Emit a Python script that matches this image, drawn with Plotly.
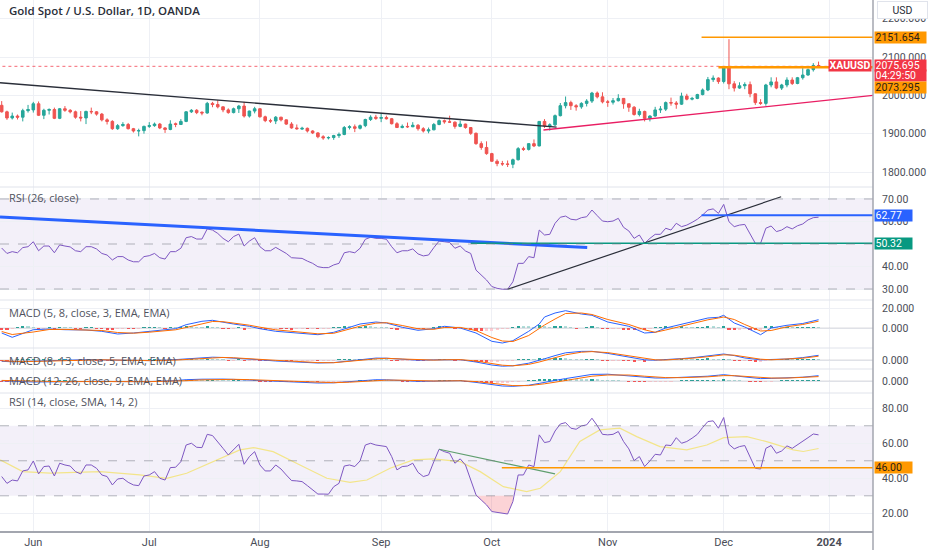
import plotly.graph_objects as go
from plotly.subplots import make_subplots

# daily bars, index 0 = 2023-05-24 ... 155 = 2023-12-28
month_ticks = [6, 28, 49, 72, 93, 115, 137, 157]
month_labels = ["Jun", "Jul", "Aug", "Sep", "Oct", "Nov", "Dec", "<b>2024</b>"]

opens = [1974, 1957, 1941, 1946, 1943, 1960, 1962, 1978, 1948, 1961, 1963, 1940, 1965, 1961, 1957, 1943,
         1941, 1958, 1957, 1951, 1936, 1932, 1913, 1921, 1924, 1913, 1907, 1908, 1919, 1921, 1925, 1915,
         1911, 1926, 1924, 1932, 1957, 1961, 1956, 1954, 1979, 1976, 1970, 1962, 1955, 1965, 1972, 1946,
         1959, 1965, 1944, 1934, 1933, 1943, 1936, 1925, 1915, 1912, 1914, 1907, 1902, 1892, 1889, 1890,
         1895, 1898, 1916, 1918, 1914, 1921, 1937, 1943, 1940, 1942, 1939, 1926, 1916, 1919, 1918, 1922,
         1913, 1907, 1910, 1924, 1934, 1931, 1930, 1919, 1925, 1916, 1901, 1874, 1864, 1848, 1828, 1822,
         1821, 1820, 1832, 1861, 1859, 1874, 1868, 1932, 1920, 1923, 1947, 1973, 1981, 1973, 1970, 1979,
         1985, 2006, 1996, 1983, 1982, 1986, 1992, 1978, 1969, 1950, 1958, 1940, 1946, 1962, 1964, 1981,
         1980, 1977, 1998, 1990, 1992, 2002, 2014, 2041, 2045, 2036, 2072, 2030, 2019, 2025, 2028, 2004,
         1981, 1979, 2027, 2035, 2019, 2027, 2040, 2031, 2046, 2053, 2067, 2078]
highs = [1985, 1960, 1955, 1950, 1965, 1975, 1983, 1984, 1965, 1966, 1968, 1967, 1972, 1964, 1960, 1959,
         1960, 1968, 1959, 1954, 1940, 1935, 1925, 1930, 1928, 1915, 1913, 1921, 1930, 1929, 1928, 1917,
         1935, 1929, 1938, 1959, 1964, 1964, 1958, 1983, 1983, 1987, 1971, 1966, 1968, 1975, 1983, 1960,
         1970, 1966, 1947, 1939, 1946, 1944, 1937, 1930, 1924, 1918, 1916, 1909, 1904, 1896, 1893, 1897,
         1903, 1920, 1922, 1924, 1924, 1939, 1948, 1949, 1953, 1947, 1941, 1930, 1924, 1929, 1930, 1925,
         1917, 1916, 1928, 1937, 1937, 1947, 1932, 1934, 1926, 1917, 1903, 1880, 1880, 1850, 1833, 1829,
         1830, 1835, 1865, 1866, 1875, 1885, 1933, 1938, 1927, 1950, 1980, 1997, 1986, 1977, 1982, 1990,
         2009, 2010, 2008, 1988, 1993, 2003, 1993, 1978, 1972, 1965, 1960, 1948, 1970, 1972, 1984, 1994,
         1985, 2007, 2004, 1996, 2004, 2018, 2048, 2052, 2047, 2075, 2146.5, 2037, 2034, 2034, 2036, 2005,
         1990, 2030, 2047, 2047, 2030, 2047, 2047, 2048, 2071, 2070, 2084, 2088]
lows = [1955, 1936, 1937, 1937, 1932, 1955, 1955, 1946, 1938, 1950, 1938, 1938, 1957, 1953, 1939, 1932,
        1925, 1951, 1947, 1932, 1924, 1910, 1910, 1918, 1911, 1903, 1893, 1900, 1915, 1918, 1912, 1902,
        1909, 1917, 1923, 1930, 1954, 1951, 1948, 1952, 1969, 1966, 1956, 1952, 1953, 1954, 1942, 1942,
        1953, 1942, 1930, 1928, 1925, 1932, 1923, 1913, 1910, 1910, 1903, 1899, 1888, 1884, 1885, 1884,
        1889, 1896, 1911, 1904, 1911, 1917, 1933, 1936, 1930, 1937, 1924, 1915, 1914, 1915, 1917, 1908,
        1903, 1901, 1909, 1922, 1926, 1928, 1913, 1917, 1913, 1897, 1871, 1858, 1845, 1827, 1815, 1816,
        1813, 1810, 1830, 1855, 1856, 1865, 1867, 1915, 1908, 1920, 1945, 1966, 1962, 1960, 1965, 1971,
        1980, 1992, 1979, 1970, 1976, 1984, 1965, 1957, 1947, 1945, 1932, 1932, 1944, 1954, 1959, 1973,
        1965, 1975, 1987, 1987, 1990, 2000, 2011, 2035, 2030, 2031, 2016, 2010, 2017, 2016, 1995, 1975,
        1975, 1973, 2021, 2016, 2014, 2021, 2027, 2029, 2041, 2051, 2062, 2074]
closes = [1957, 1941, 1946, 1943, 1960, 1963, 1978, 1948, 1961, 1963, 1940, 1965, 1961, 1957, 1943, 1941,
          1958, 1957, 1951, 1936, 1932, 1913, 1921, 1924, 1913, 1907, 1908, 1919, 1921, 1925, 1915, 1911,
          1925, 1924, 1932, 1957, 1961, 1955, 1954, 1979, 1976, 1970, 1962, 1955, 1965, 1972, 1946, 1959,
          1965, 1944, 1934, 1933, 1943, 1936, 1925, 1915, 1913, 1914, 1907, 1902, 1892, 1889, 1890, 1895,
          1898, 1916, 1918, 1914, 1921, 1937, 1943, 1940, 1942, 1939, 1926, 1916, 1919, 1918, 1922, 1913,
          1907, 1910, 1924, 1934, 1931, 1930, 1919, 1925, 1916, 1901, 1874, 1864, 1848, 1828, 1822, 1821,
          1820, 1832, 1861, 1859, 1874, 1868, 1932, 1920, 1923, 1947, 1973, 1981, 1973, 1970, 1979, 1985,
          2006, 1996, 1983, 1982, 1986, 1992, 1978, 1969, 1950, 1958, 1940, 1946, 1962, 1964, 1981, 1980,
          1977, 1998, 1990, 1992, 2002, 2014, 2041, 2045, 2036, 2072, 2030, 2019, 2025, 2028, 2004, 1981,
          1979, 2027, 2035, 2019, 2027, 2040, 2031, 2046, 2053, 2067, 2078, 2075.695]

last_price = 2075.695
countdown = "04:29:50"

rsi26 = [48.2, 45.8, 46.6, 46.1, 48.4, 48.8, 51.0, 47.0, 49.1, 49.1, 46.1, 49.6, 49.1, 48.7, 47.0, 46.6,
         48.8, 48.8, 47.8, 45.8, 45.1, 42.9, 44.4, 44.4, 42.9, 42.1, 42.1, 44.4, 44.8, 45.8, 43.9, 43.3,
         46.6, 46.6, 48.1, 52.8, 53.3, 52.2, 52.2, 56.7, 56.2, 54.7, 52.5, 51.0, 53.3, 54.4, 49.1, 51.3,
         52.8, 48.8, 47.0, 47.0, 48.5, 47.3, 45.8, 43.9, 43.6, 43.6, 42.4, 41.4, 39.9, 39.5, 39.5, 40.7,
         41.4, 46.1, 46.6, 46.1, 48.1, 52.1, 53.0, 52.5, 52.5, 52.1, 48.8, 46.1, 47.0, 47.0, 47.8, 45.6,
         44.7, 45.1, 48.4, 51.3, 51.0, 50.7, 48.1, 49.1, 46.9, 45.8, 38.4, 36.2, 34.0, 31.1, 30.3, 29.9,
         29.9, 33.2, 41.4, 41.4, 44.4, 43.9, 56.2, 54.0, 54.3, 59.2, 61.9, 62.4, 61.0, 60.7, 61.7, 62.1,
         65.1, 62.6, 60.2, 59.9, 60.2, 61.4, 57.4, 55.8, 52.5, 54.0, 50.3, 52.5, 54.3, 54.3, 57.0, 56.2,
         59.2, 57.7, 58.4, 59.6, 61.0, 62.9, 65.1, 65.6, 63.6, 67.6, 59.9, 57.7, 58.4, 58.7, 54.3, 50.3,
         50.3, 57.0, 58.0, 55.5, 56.2, 57.7, 56.7, 58.1, 58.9, 60.7, 61.7, 61.9]

rsi14 = [41.0, 37.1, 39.0, 38.5, 44.2, 44.8, 49.9, 42.5, 46.7, 47.0, 41.3, 48.6, 47.6, 47.0, 43.8, 42.5,
         47.6, 47.6, 45.7, 41.9, 41.0, 36.2, 39.6, 40.0, 37.7, 36.2, 35.8, 41.3, 41.9, 43.8, 40.0, 39.0,
         46.1, 46.3, 49.5, 59.0, 60.0, 57.7, 57.5, 65.1, 64.4, 61.0, 57.1, 53.3, 56.2, 59.4, 48.0, 52.4,
         55.2, 47.6, 44.2, 44.2, 47.6, 45.3, 41.9, 38.7, 38.5, 38.1, 35.8, 33.3, 31.0, 31.0, 30.9, 35.2,
         37.1, 47.0, 47.6, 46.7, 49.9, 59.0, 60.0, 59.0, 58.5, 58.1, 52.4, 44.8, 46.7, 47.0, 48.6, 43.4,
         41.0, 41.9, 49.5, 56.6, 55.2, 54.3, 48.6, 51.1, 47.6, 39.0, 30.5, 27.6, 24.8, 21.0, 20.4, 20.0,
         19.6, 26.7, 41.9, 41.9, 47.6, 46.7, 64.8, 60.4, 61.0, 67.0, 71.0, 71.8, 68.6, 68.0, 69.9, 70.5,
         74.3, 70.1, 65.1, 64.8, 65.1, 66.7, 61.0, 56.8, 50.1, 52.4, 46.7, 49.9, 53.7, 53.3, 59.0, 58.7,
         63.2, 60.0, 61.0, 62.9, 65.1, 69.0, 72.4, 72.8, 68.6, 74.7, 59.4, 56.8, 58.1, 58.7, 51.8, 45.7,
         45.3, 57.1, 58.7, 54.3, 55.6, 58.5, 57.1, 59.0, 60.9, 63.2, 65.3, 64.8]

# RSI-based SMA (14), read at sparse points
rsi_ma_x = [-0.3, 4, 9.2, 18.7, 26.2, 31.3, 35.1, 40.2, 45.2, 47.8, 51.5, 56.6, 61.7, 66.1, 69.3, 73.7,
            78.1, 81.9, 87, 90.8, 95.2, 99.6, 102.2, 106, 109.7, 113.5, 117.3, 120.5, 124.9, 130, 133.8,
            137, 141.4, 145.8, 150.2, 152.1, 155]
rsi_ma_y = [50.5, 43.8, 42.9, 43.8, 41.9, 40.0, 42.9, 49.5, 56.2, 57.5, 55.2, 47.6, 40.0, 37.7, 39.0, 45.7,
            50.5, 51.1, 49.5, 43.8, 35.2, 32.4, 34.3, 43.8, 61.0, 67.6, 68.6, 63.8, 58.1, 56.2, 59.0,
            63.2, 63.8, 60.4, 56.2, 55.3, 57.0]

# MACD panes, lines read at sparse bars
macd_x = [0, 2, 6, 9, 12, 16, 19, 22, 25, 28, 33, 35, 38, 40, 42, 44, 47, 49, 52, 57, 60, 63, 66, 68, 71,
          73, 76, 79, 82, 84, 87, 90, 93, 95, 97, 100, 102, 103, 105, 107, 110, 112, 115, 119, 122, 124,
          126, 129, 131, 134, 136, 137, 139, 141, 144, 146, 149, 152, 155]
macd1 = [-5, -9.3, -1.7, -1.0, -1.7, -2.0, -3.3, -6, -5, -3.3, -0.7, 3.3, 6.7, 7.7, 5.5, 4, 1.7, -0.7, -3.3,
         -5, -6.7, -4.3, 0.7, 4, 6, 5, 0.7, -2.3, -0.7, 1.7, 0, -5, -13.3, -15, -12.7, -3.3, 4, 11, 15, 17.3,
         14, 12.7, 6, 1.7, -5, -4.3, 0, 4, 6, 10, 10.7, 12.7, 5, 1, -6.7, 0, 2.7, 4.5, 8.3]
signal1 = [-3.5, -6.5, -4.0, -1.5, -1.4, -1.6, -2.5, -4.5, -5.2, -4.2, -1.8, 0.5, 4.5, 6.5, 6.3, 5, 2.8, 0.8,
           -1.8, -4.3, -5.8, -5.3, -1.5, 1.8, 4.8, 5.3, 2.5, -0.8, -1.3, 0.5, 0.6, -2.5, -9.5, -13, -13.5,
           -7.5, -0.5, 3, 9, 14.5, 15, 13.5, 8.5, 3.5, -1.8, -4.3, -2, 2, 4.6, 8.2, 10, 11, 8.5, 3.5, -3,
           -2.5, 1.2, 3.5, 6.8]
macd2 = [-3.3, -4.5, -3.0, -1.5, 0.5, 0.8, 0.3, -0.8, -1.8, -1.5, 1.0, 3.0, 6.2, 7.0, 6.3, 5.0, 2.8, 0.5,
         -2.5, -5.8, -7.5, -6.5, -2.0, 1.5, 4.8, 4.5, 1.2, -0.5, 0.3, 1.2, 0.8, -5.0, -12.5, -15.5, -14.5,
         -8.0, -1.5, 3, 11, 18, 21.5, 21.7, 16.5, 7, 0.5, -0.5, 0.5, 3.5, 5.5, 10, 13, 15, 11, 5, 0.5, 0.8,
         2.5, 6, 11.7]
signal2 = [-2.0, -3.5, -3.6, -2.5, -0.8, 0.4, 0.5, -0.2, -1.2, -1.6, -0.2, 1.5, 4.5, 6.0, 6.4, 5.6, 3.8, 2.0,
           -0.8, -4.2, -6.5, -6.8, -4.0, -0.8, 3.0, 4.2, 2.5, 0.3, -0.2, 0.6, 1.0, -2.5, -9.0, -13.0, -14.5,
           -11.0, -5.0, -1.5, 5.5, 13, 19.5, 21, 18.5, 11, 3.5, 0.5, 0, 2.2, 4.5, 8.2, 11.5, 13, 12, 7.5, 2,
           0.5, 1.8, 4.5, 9.5]
macd3 = [0.8, -0.5, -2.5, -2.2, -1.5, -1.0, -0.8, -1.5, -2.0, -1.5, 1.0, 3.3, 4.5, 5.0, 4.8, 4.0, 2.5, 1.2,
         -0.5, -3.5, -5.0, -4.5, -1.5, 1.5, 3.2, 3.0, 1.0, -0.8, -0.3, 0.5, 0.8, -3.5, -9.5, -12.5, -13.3,
         -10.5, -6, -3, 1.5, 6, 13, 16.5, 17, 13.5, 9, 7.5, 7.5, 8.5, 9.2, 12, 14.5, 15.8, 13, 9.5, 6, 6.5,
         7.3, 9.5, 13.3]
signal3 = [1.5, 0.8, -1.0, -1.8, -1.8, -1.4, -1.0, -1.2, -1.6, -1.7, -0.5, 0.8, 2.8, 3.8, 4.3, 4.2, 3.4, 2.5,
           1.0, -1.8, -3.5, -4.2, -3.0, -1.2, 1.2, 2.2, 2.0, 0.5, 0.0, 0.2, 0.6, -1.5, -6, -9.5, -11.5,
           -11.5, -9, -7, -3, 1.5, 8, 12, 15, 15, 12, 10, 8.5, 8.3, 8.6, 10.5, 12.5, 13.5, 13.3, 11.5, 8.5,
           7.5, 7.3, 8.3, 11]

hist1 = [-1.2, -1.8, -1.0, 0.8, 1.8, 1.5, 1.0, -0.5, -0.3, 0.2, -0.8, 0.6, 0.5, 0.1, -0.6, -0.8,
         0.3, 0.4, -0.2, -1.0, -1.2, -1.6, -0.6, -0.1, -0.5, -0.7, -0.2, 0.6, 0.8, 0.9, 0.2, -0.3,
         0.7, 0.5, 0.9, 2.0, 1.8, 0.8, 0.2, 1.5, 1.0, 0.2, -0.6, -1.0, -0.4, 0.3, -1.3, -0.6,
         0.0, -1.0, -1.5, -1.2, -0.4, -0.5, -0.9, -1.2, -0.9, -0.6, -0.7, -0.6, -0.8, -0.5, -0.1, 0.3,
         0.5, 1.5, 1.3, 0.5, 0.7, 1.6, 1.5, 0.8, 0.5, 0.1, -0.8, -1.3, -0.9, -0.6, -0.1, -0.7,
         -0.9, -0.5, 0.6, 1.1, 0.8, 0.3, -0.6, -0.2, -0.7, -1.4, -2.6, -2.8, -2.7, -2.6, -1.8, -1.0,
         -0.4, 0.8, 2.2, 1.8, 1.6, 0.9, 3.2, 1.6, 0.8, 1.4, 2.1, 1.6, 0.4, -0.3, 0.0, 0.2,
         1.1, 0.3, -0.8, -1.0, -0.7, -0.3, -1.1, -1.5, -2.0, -1.3, -1.8, -1.0, 0.3, 0.5, 1.3, 0.8,
         0.3, 1.3, 0.6, 0.3, 0.5, 1.0, 2.0, 1.4, 0.3, 1.9, -1.2, -1.9, -1.6, -1.0, -1.6, -2.3,
         -2.0, 1.2, 1.9, 0.6, 0.5, 0.9, 0.2, 0.6, 0.8, 1.0, 1.0, 0.5]
hist2 = [-1.0, -1.5, -1.0, 0.2, 1.0, 1.2, 1.2, 0.2, 0.3, 0.5, -0.3,
         0.5, 0.6, 0.3, -0.3, -0.6, 0.0, 0.2, -0.2, -0.8, -1.2,
         -1.8, -1.5, -1.0, -1.0, -1.1, -0.8, -0.2, 0.2, 0.5, 0.2,
         -0.1, 0.4, 0.5, 0.8, 2.0, 2.2, 1.6, 1.0, 2.0, 1.8,
         1.0, 0.2, -0.5, -0.3, 0.2, -1.2, -1.0, -0.5, -1.4, -2.0,
         -2.0, -1.5, -1.4, -1.6, -1.8, -1.6, -1.2, -1.1, -1.1, -1.2,
         -1.0, -0.6, -0.2, 0.2, 1.2, 1.5, 1.0, 1.1, 1.8, 2.0,
         1.5, 1.0, 0.6, -0.4, -1.2, -1.2, -1.0, -0.6, -1.0, -1.3,
         -1.0, 0.0, 0.8, 0.8, 0.5, -0.3, -0.2, -0.6, -1.4, -2.8,
         -3.5, -3.8, -3.8, -3.2, -2.4, -1.5, -0.2, 2.0, 2.2, 2.5,
         2.0, 4.5, 3.8, 3.0, 3.5, 4.0, 3.6, 2.2, 1.2, 1.0,
         1.0, 1.6, 1.0, -0.2, -0.8, -0.8, -0.5, -1.2, -1.8, -2.6,
         -2.2, -2.6, -2.0, -0.8, -0.2, 0.8, 0.8, 0.5, 1.5, 1.2,
         0.8, 1.0, 1.5, 2.6, 2.4, 1.5, 2.5, 0.2, -1.2, -1.5,
         -1.4, -2.0, -2.8, -2.8, -0.6, 0.6, 0.4, 0.5, 0.9, 0.6,
         0.8, 1.0, 1.2, 1.4, 1.0]
hist3 = [-0.8, -1.0, -0.9, -0.5, 0.0, 0.3, 0.5, 0.2, 0.2, 0.3, -0.1,
         0.2, 0.3, 0.2, -0.1, -0.3, -0.1, 0.0, -0.2, -0.5, -0.8,
         -1.2, -1.2, -1.0, -1.0, -1.1, -1.0, -0.6, -0.4, -0.2, -0.2,
         -0.3, 0.0, 0.2, 0.4, 1.2, 1.5, 1.4, 1.2, 1.8, 1.9,
         1.6, 1.2, 0.8, 0.8, 0.9, 0.2, 0.0, 0.1, -0.4, -0.9,
         -1.2, -1.2, -1.3, -1.5, -1.8, -1.9, -1.9, -2.0, -2.0, -2.1,
         -2.0, -1.8, -1.5, -1.2, -0.6, -0.2, 0.0, 0.2, 0.8, 1.2,
         1.3, 1.2, 1.0, 0.6, 0.1, -0.1, -0.2, -0.2, -0.4, -0.6,
         -0.6, -0.2, 0.3, 0.5, 0.5, 0.2, 0.2, -0.1, -0.6, -1.6,
         -2.4, -3.1, -3.6, -3.6, -3.4, -3.0, -2.2, -0.8, 0.0, 0.6,
         0.9, 2.8, 3.0, 3.0, 3.6, 4.2, 4.4, 4.0, 3.4, 3.0,
         2.8, 3.0, 2.6, 1.8, 1.2, 0.8, 0.6, 0.0, -0.6, -1.4,
         -1.6, -2.0, -1.9, -1.4, -1.0, -0.4, -0.2, 0.0, 0.6, 0.6,
         0.6, 0.8, 1.2, 2.0, 2.4, 2.2, 3.0, 2.0, 1.0, 0.4,
         0.0, -0.6, -1.4, -1.8, -0.8, -0.2, 0.0, 0.1, 0.4, 0.5,
         0.8, 1.0, 1.3, 1.6, 1.6]

# drawings (bar index, value)
trend_down_x, trend_down_y = [-0.32, 105.3], [2033, 1917]
trend_up_x, trend_up_y = [102.8, 166], [1909.4, 2000.8]
level_hi_x, level_hi = [132.8, 166], 2151.654
level_lo_x, level_lo = [136, 166], 2073.295
rsi26_down_x, rsi26_down_y = [-0.32, 111.1], [62.0, 48.4]
rsi26_up_x, rsi26_up_y = [96.0, 147.9], [29.9, 71.0]
rsi26_lvl_a_x, rsi26_lvl_a = [132.8, 166], 62.77
rsi26_lvl_b_x, rsi26_lvl_b = [89, 166], 50.32
rsi14_trend_x, rsi14_trend_y = [83, 105], [56.6, 42.5]
rsi14_lvl_x, rsi14_lvl = [94.9, 166], 46.00

UP, DN = "#26A69A", "#EF5350"
GRID = "#eef0f5"
AXIS_TXT = "#4a4d57"
FONT = "Roboto"
PLOT_H = 531
idx = list(range(len(closes)))

fig = make_subplots(rows=6, cols=1, shared_xaxes=True, vertical_spacing=0,
                    row_heights=[187, 113, 48, 21, 24, 138])


def py(px):
    # pixel row inside the plot area -> paper y
    return (PLOT_H - px) / PLOT_H


def line(x, y, color, width=1, row=1, dash="solid"):
    fig.add_trace(go.Scatter(x=x, y=y, mode="lines", line=dict(color=color, width=width, dash=dash),
                             hoverinfo="skip", showlegend=False), row=row, col=1)


def hist_colors(h):
    out, prev = [], 0
    for v in h:
        if v >= 0:
            out.append("#26A69A" if v >= prev else "#B2DFDB")
        else:
            out.append("#FF5252" if v < prev else "#FFCDD2")
        prev = v
    return out


# ---- price pane
fig.add_trace(go.Candlestick(x=idx, open=opens, high=highs, low=lows, close=closes,
                             increasing=dict(line=dict(color=UP, width=1), fillcolor=UP),
                             decreasing=dict(line=dict(color=DN, width=1), fillcolor=DN),
                             whiskerwidth=0, hoverinfo="skip", showlegend=False), row=1, col=1)
line([-1, 170], [last_price, last_price], "rgba(242,54,69,0.75)", 1, dash="dot")
line(trend_down_x, trend_down_y, "#2a2e39", 1.4)
line(trend_up_x, trend_up_y, "#E91E63", 1.4)
line(level_hi_x, [level_hi, level_hi], "#FF9800", 1.4)
line(level_lo_x, [level_lo, level_lo], "#FF9800", 2.5)

# ---- RSI 26
line(idx, rsi26, "#7E57C2", 1, row=2)
line(rsi26_down_x, rsi26_down_y, "#2962FF", 3, row=2)
line(rsi26_up_x, rsi26_up_y, "#2a2e39", 1.2, row=2)
line(rsi26_lvl_a_x, [rsi26_lvl_a] * 2, "#2962FF", 2, row=2)
line(rsi26_lvl_b_x, [rsi26_lvl_b] * 2, "#089981", 1.5, row=2)

# ---- MACD panes
for r, m, s, h in [(3, macd1, signal1, hist1), (4, macd2, signal2, hist2), (5, macd3, signal3, hist3)]:
    line([-1, 170], [0, 0], "rgba(120,123,134,0.25)", 1, row=r)
    fig.add_trace(go.Bar(x=idx, y=h, marker=dict(color=hist_colors(h), line=dict(width=0)), width=0.6,
                         hoverinfo="skip", showlegend=False), row=r, col=1)
    line(macd_x, m, "#2962FF", 1, row=r)
    line(macd_x, s, "#FF6D00", 1, row=r)

# ---- RSI 14
os_x = idx[90:98]
line(os_x, [30] * len(os_x), "rgba(0,0,0,0)", 0, row=6)
fig.add_trace(go.Scatter(x=os_x, y=[min(v, 30) for v in rsi14[90:98]], mode="lines",
                         line=dict(width=0), fill="tonexty", fillcolor="rgba(242,54,69,0.22)",
                         hoverinfo="skip", showlegend=False), row=6, col=1)
line(rsi_ma_x, rsi_ma_y, "#f3e58a", 1.2, row=6)
line(idx, rsi14, "#7E57C2", 1, row=6)
line(rsi14_trend_x, rsi14_trend_y, "#5f9e6e", 1.2, row=6)
line(rsi14_lvl_x, [rsi14_lvl] * 2, "#FF9800", 1.5, row=6)

# RSI bands
for yr in ["y2", "y6"]:
    fig.add_shape(type="rect", xref="paper", x0=0, x1=1, yref=yr, y0=30, y1=70,
                  fillcolor="rgba(126,87,194,0.09)", line=dict(width=0), layer="below")
    for lv in (30, 50, 70):
        fig.add_shape(type="line", xref="paper", x0=0, x1=1, yref=yr, y0=lv, y1=lv,
                      line=dict(color="rgba(120,123,134,0.55)", width=1, dash="dash"))

# pane separators and axis frame
for px in (187, 300, 348, 369, 393):
    fig.add_shape(type="line", xref="paper", x0=0, x1=1, yref="paper", y0=py(px), y1=py(px),
                  line=dict(color="#e0e3eb", width=1))
fig.add_shape(type="line", xref="paper", x0=1, x1=1, yref="paper", y0=py(550), y1=1,
              line=dict(color="#a3a6af", width=1.5))

# axes
xr = [-0.32, 165.33]
fig.update_xaxes(range=xr, tickvals=month_ticks, ticktext=month_labels, showgrid=True, gridcolor=GRID,
                 zeroline=False, rangeslider_visible=False, showticklabels=False, ticks="")
fig.update_xaxes(showticklabels=True, tickfont=dict(family=FONT, size=11, color=AXIS_TXT),
                 showline=True, linecolor="#a3a6af", linewidth=1.5, row=6, col=1)

yax = dict(side="right", showgrid=True, gridcolor=GRID, zeroline=False, ticks="",
           ticklabelstandoff=8, tickfont=dict(family=FONT, size=10.5, color=AXIS_TXT))
fig.update_yaxes(**yax)
fig.update_yaxes(range=[1760.9, 2248.7], tickvals=[1800, 1900, 2000, 2100, 2200], tickformat=".3f",
                 row=1, col=1)
fig.update_yaxes(range=[25.11, 75.33], tickvals=[30, 40, 60, 70], tickformat=".2f", row=2, col=1)
fig.update_yaxes(range=[-20, 28], tickvals=[0, 20], tickformat=".3f", row=3, col=1)
fig.update_yaxes(range=[-22.5, 30], tickvals=[0], tickformat=".3f", row=4, col=1)
fig.update_yaxes(range=[-30, 30], tickvals=[0], tickformat=".3f", row=5, col=1)
fig.update_yaxes(range=[9.9, 88.7], tickvals=[20, 40, 60, 80], tickformat=".2f", row=6, col=1)

# pane titles
titles = [("Gold Spot / U.S. Dollar, 1D, OANDA", 11, 11.5, "#2a2e39", 600),
          ("RSI (26, close)", 197, 11, "#50535e", 400),
          ("MACD (5, 8, close, 3, EMA, EMA)", 313, 11, "#50535e", 400),
          ("MACD (8, 13, close, 5, EMA, EMA)", 360, 11, "#50535e", 400),
          ("MACD (12, 26, close, 9, EMA, EMA)", 381, 11, "#50535e", 400),
          ("RSI (14, close, SMA, 14, 2)", 401, 11, "#50535e", 400)]
for txt, px, sz, col, wt in titles:
    fig.add_annotation(xref="paper", yref="paper", x=0.008, y=py(px), xanchor="left", yanchor="middle",
                       text=txt, showarrow=False, font=dict(family="Open Sans", size=sz, color=col, weight=wt))


def tag(text, yref, y, bg, fg, w, yshift=0, bold=False):
    fig.add_annotation(xref="paper", x=1, xanchor="left", xshift=1, yref=yref, y=y, yanchor="middle",
                       yshift=yshift, text=f"<b>{text}</b>" if bold else text, showarrow=False, bgcolor=bg,
                       width=w, height=10, align="left", borderpad=0.5,
                       font=dict(family=FONT, size=10.5, color=fg))


tag(f"{level_hi:.3f}", "y", level_hi, "#FF9800", "#2a2118", 50)
tag(f"{last_price:.3f}", "y", last_price, "#F23645", "#ffffff", 50, yshift=1)
tag(countdown, "y", last_price, "#F23645", "#ffffff", 50, yshift=-9.5)
tag(f"{level_lo:.3f}", "y", level_lo, "#FF9800", "#2a2118", 50, yshift=-20.5)
tag(f"{rsi26_lvl_a:.2f}", "y2", rsi26_lvl_a, "#2962FF", "#ffffff", 36)
tag(f"{rsi26_lvl_b:.2f}", "y2", rsi26_lvl_b, "#089981", "#ffffff", 36)
tag(f"{rsi14_lvl:.2f}", "y6", rsi14_lvl, "#FF9800", "#2a2118", 36)
fig.add_annotation(xref="paper", x=1, xanchor="right", xshift=-1, yref="y", y=last_price, yanchor="middle",
                   yshift=1, text="<b>XAUUSD</b>", showarrow=False, bgcolor="#F23645", borderpad=0.5,
                   height=10, font=dict(family=FONT, size=10.5, color="#ffffff"))
fig.add_annotation(xref="paper", x=902.5 / 873, xanchor="center", yref="paper", y=py(10.5),
                   yanchor="middle", text="USD", showarrow=False,
                   bgcolor="#ffffff", bordercolor="#e0e3eb", borderwidth=1, width=47, height=14,
                   font=dict(family=FONT, size=10.5, color="#2a2e39"))

fig.update_layout(width=932, height=550, margin=dict(l=0, r=59, t=0, b=19),
                  paper_bgcolor="#ffffff", plot_bgcolor="#ffffff", showlegend=False,
                  bargap=0, hovermode=False)

fig.write_html("out.html", config={"displayModeBar": False},
               post_script="document.body.style.margin='0';")
